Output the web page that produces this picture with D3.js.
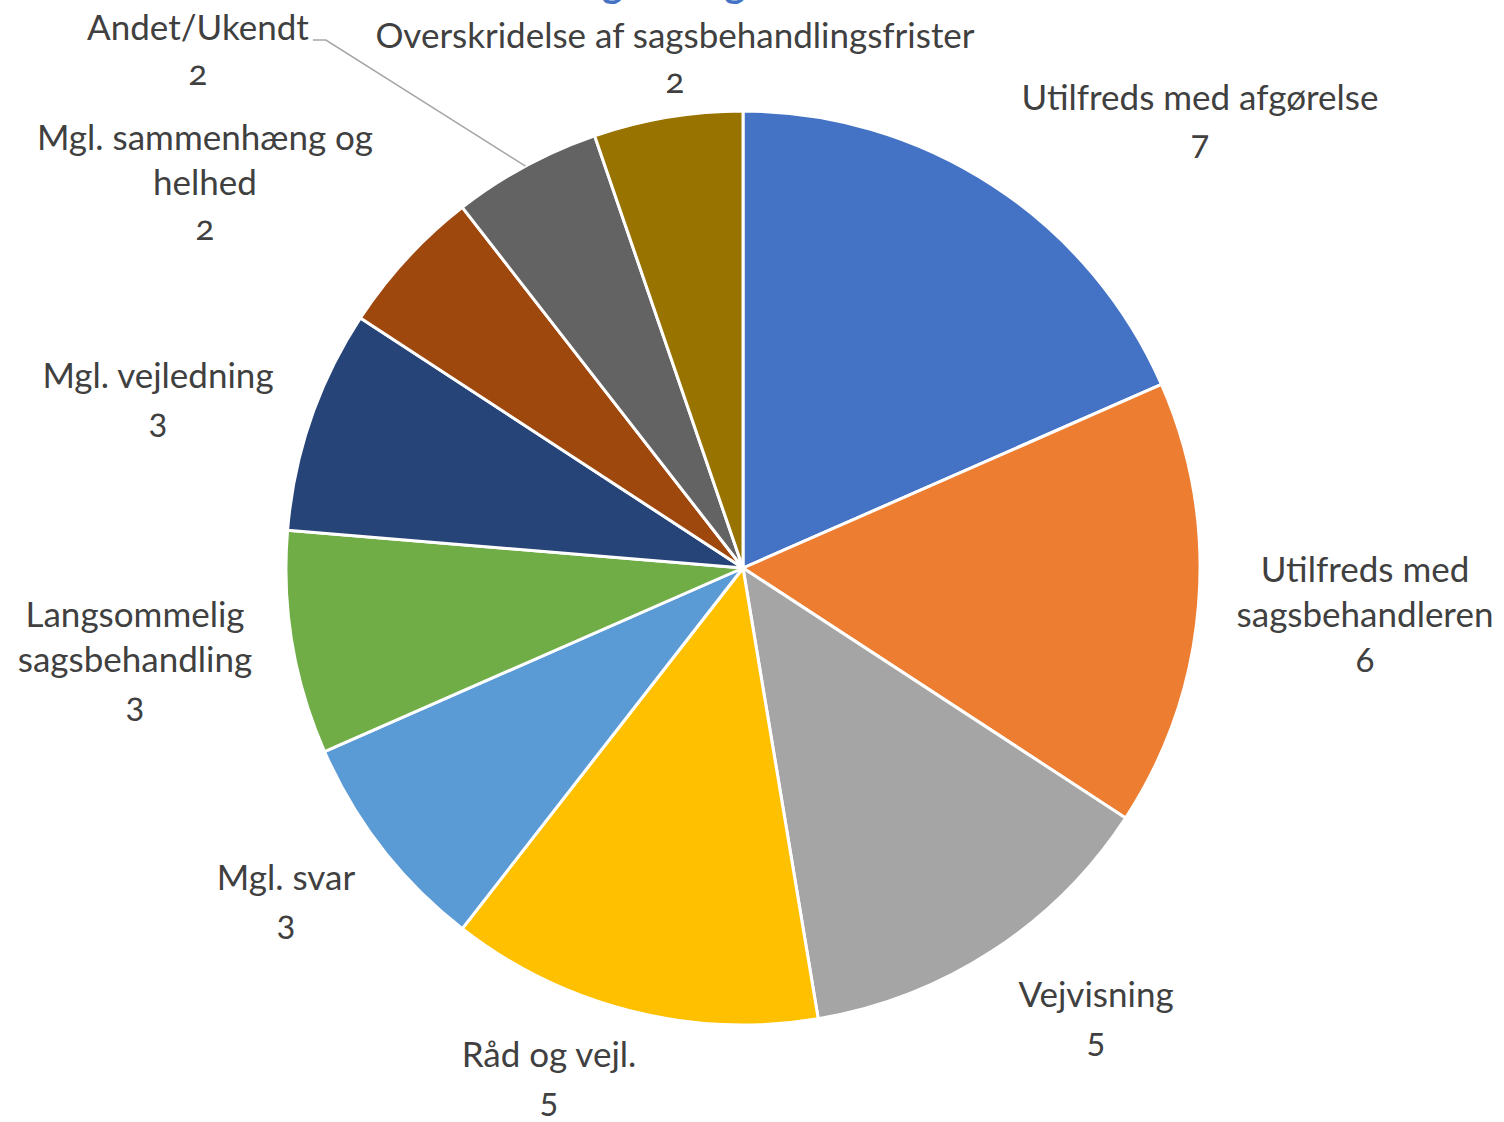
<!DOCTYPE html>
<html>
<head>
<meta charset="utf-8">
<script src="https://cdn.jsdelivr.net/npm/d3@7"></script>
<style>
  html, body { margin: 0; padding: 0; background: #fff; }
  svg { display: block; }
  .num { font-variant-numeric: oldstyle-nums; font-feature-settings: "onum" 1; }
</style>
</head>
<body>
<svg id="chart" width="1504" height="1122"></svg>
<script>
// ---- data ----
const categories = [
  "Utilfreds med afgørelse",
  "Utilfreds med sagsbehandleren",
  "Vejvisning",
  "Råd og vejl.",
  "Mgl. svar",
  "Langsommelig sagsbehandling",
  "Mgl. vejledning",
  "Mgl. sammenhæng og helhed",
  "Andet/Ukendt",
  "Overskridelse af sagsbehandlingsfrister"
];
const values = [7, 6, 5, 5, 3, 3, 3, 2, 2, 2];
const titleText = "Fordeling af klager";

// ---- layout / style config ----
const colors = ["#4472C4", "#ED7D31", "#A5A5A5", "#FFC000", "#5B9BD5",
                "#70AD47", "#264478", "#9E480E", "#636363", "#997300"];
// label line breaks, centre x and first baseline y (relative to pie centre)
const labelLayout = [
  { lines: ["Utilfreds med afgørelse"], x: 457, y: -458 },
  { lines: ["Utilfreds med", "sagsbehandleren"], x: 622, y: 14 },
  { lines: ["Vejvisning"], x: 353, y: 439 },
  { lines: ["Råd og vejl."], x: -194, y: 499 },
  { lines: ["Mgl. svar"], x: -457, y: 322 },
  { lines: ["Langsommelig", "sagsbehandling"], x: -608, y: 59 },
  { lines: ["Mgl. vejledning"], x: -585, y: -180 },
  { lines: ["Mgl. sammenhæng og", "helhed"], x: -538, y: -418 },
  { lines: ["Andet/Ukendt"], x: -545, y: -528, leader: true },
  { lines: ["Overskridelse af sagsbehandlingsfrister"], x: -68, y: -520 }
];

const cx = 743, cy = 568, R = 457;
const fontSize = 35;
const lineH = 45;
const fontFamily = "Lato, 'Open Sans', sans-serif";

const svg = d3.select("#chart");

// title (mostly cut off above the page)
const title = svg.append("text")
  .attr("x", 457).attr("y", -2)
  .attr("font-family", fontFamily)
  .attr("font-weight", "bold")
  .attr("font-size", 39)
  .attr("fill", "#4472C4")
  .text(titleText);
// align the first descender of the title with the reference
try {
  const gi = titleText.indexOf("g");
  const p = title.node().getStartPositionOfChar(gi);
  title.attr("x", 457 + (602 - p.x));
} catch (e) {}

const g = svg.append("g").attr("transform", `translate(${cx},${cy})`);

const pie = d3.pie().sort(null).value(d => d)(values);
const arc = d3.arc().innerRadius(0).outerRadius(R);

g.selectAll("path.slice")
  .data(pie)
  .join("path")
  .attr("class", "slice")
  .attr("d", arc)
  .attr("fill", (d, i) => colors[i])
  .attr("stroke", "#fff")
  .attr("stroke-width", 3)
  .attr("stroke-linejoin", "round");

// labels
const labelTexts = [];
g.selectAll("g.label")
  .data(pie)
  .join("g")
  .attr("class", "label")
  .attr("transform", (d, i) => `translate(${labelLayout[i].x},${labelLayout[i].y})`)
  .each(function(d, i) {
    const L = labelLayout[i];
    const sel = d3.select(this);
    const first = [];
    L.lines.forEach((ln, k) => {
      const t = sel.append("text")
        .attr("x", 0).attr("y", k * lineH)
        .attr("text-anchor", "middle")
        .attr("font-family", fontFamily)
        .attr("font-size", fontSize)
        .attr("fill", "#404040")
        .text(ln);
      first.push(t);
    });
    sel.append("text")
      .attr("class", "num")
      .attr("x", 0).attr("y", L.lines.length * lineH)
      .attr("text-anchor", "middle")
      .attr("font-family", fontFamily)
      .attr("font-size", fontSize)
      .attr("fill", "#404040")
      .text(String(d.data));
    labelTexts[i] = first[0];
  });

// leader line for Andet/Ukendt
const leaderIdx = labelLayout.findIndex(l => l.leader);
if (leaderIdx >= 0) {
  const d = pie[leaderIdx];
  const mid = (d.startAngle + d.endAngle) / 2;
  const px = Math.sin(mid) * R, py = -Math.cos(mid) * R;
  const L = labelLayout[leaderIdx];
  const w = labelTexts[leaderIdx].node().getComputedTextLength();
  const tx = L.x + w / 2 + 4, ty = L.y;
  g.append("path")
    .attr("d", `M${tx},${ty} L${tx + 13},${ty} L${px},${py}`)
    .attr("fill", "none")
    .attr("stroke", "#A6A6A6")
    .attr("stroke-width", 1.5);
}
</script>
</body>
</html>
